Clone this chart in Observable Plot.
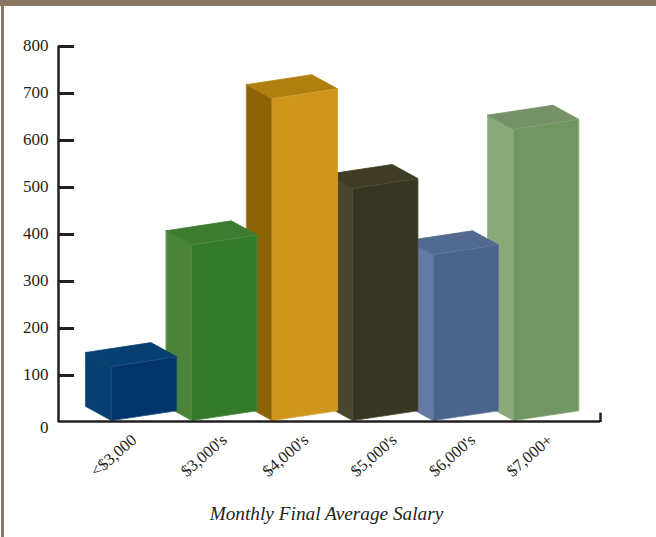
<!DOCTYPE html>
<html>
<head>
<meta charset="utf-8">
<script src="https://cdn.jsdelivr.net/npm/d3@7"></script>
<script src="https://cdn.jsdelivr.net/npm/@observablehq/plot@0.6"></script>
<style>
html,body{margin:0;padding:0;background:#fff;overflow:hidden}
#chart{position:relative;width:656px;height:537px}
#chart svg{position:absolute;left:0;top:0;background:transparent}
.band-top{position:absolute;left:0;top:0;width:656px;height:6px;background:#8a7863}
.band-left{position:absolute;left:1px;top:0;width:3px;height:537px;background:#8a7863}
</style>
</head>
<body>
<div id="chart"><div class="band-top"></div><div class="band-left"></div></div>
<script>
const categories = ["<$3,000", "$3,000's", "$4,000's", "$5,000's", "$6,000's", "$7,000+"];
const values = [115, 374, 685, 494, 353, 620];
const frontColors = ["#00346a", "#337a2a", "#d0961b", "#363622", "#4a648c", "#719563"];
const sideColors = ["#063f72", "#4b8339", "#8c6405", "#4b4630", "#637ba4", "#8aa87a"];
const topColors = ["#063f72", "#3d7b30", "#b07f0e", "#3f3b25", "#526a90", "#749167"];
const edgeColors = ["#1f5285", "#4f8c44", "#d8a436", "#4e4c36", "#5f79a2", "#84a576"];
const yTicks = [100, 200, 300, 400, 500, 600, 700, 800];
const labelNudge = [0, 10, 11, 19, 17, 14];

// Oblique projection, in the units of the x (bar steps) and y (value) scales
const barWidth = 0.81, baseY = 4, riseY = 21, depthX = -0.32, depthY = 30;

const faces = [];
for (let i = categories.length - 1; i >= 0; --i) {
  const v = values[i];
  const fl = [i, baseY], fr = [i + barWidth, baseY + riseY];
  const tl = [i, baseY + v], tr = [i + barWidth, baseY + riseY + v];
  const back = ([x, y]) => [x + depthX, y + depthY];
  const polys = [
    ["side", sideColors[i], sideColors[i], [back(fl), fl, tl, back(tl)]],
    ["top", topColors[i], topColors[i], [tl, tr, back(tr), back(tl)]],
    ["front", frontColors[i], edgeColors[i], [fl, fr, tr, tl]]
  ];
  for (const [kind, fill, stroke, pts] of polys)
    for (const [x, y] of pts) faces.push({id: `${i}-${kind}`, x, y, fill, stroke});
}

const serif = "'Liberation Serif', serif";
const ink = "#231f20";
const plot = Plot.plot({
  width: 656, height: 537,
  marginLeft: 58, marginRight: 56, marginTop: 46, marginBottom: 115,
  style: {background: "transparent", fontFamily: serif},
  x: {type: "linear", domain: [-0.66, 6.08], axis: null},
  y: {domain: [0, 800], axis: null},
  color: {type: "identity"},
  marks: [
    Plot.line(faces, {x: "x", y: "y", z: "id", fill: "fill", stroke: "stroke", strokeWidth: 0.8, curve: "linear-closed"}),
    Plot.ruleX([-0.66], {y1: 0, y2: 800, stroke: ink, strokeWidth: 2.5}),
    Plot.ruleY([0], {x1: -0.66, x2: 6.08, dy: -1, stroke: ink, strokeWidth: 2.5}),
    Plot.ruleX([6.08], {y1: 0, y2: 20, stroke: ink, strokeWidth: 2.5}),
    Plot.ruleY(yTicks, {x1: -0.66, x2: -0.46, stroke: ink, strokeWidth: 3}),
    Plot.text(yTicks, {x: -0.66, y: d => d, text: d => String(d), textAnchor: "end", dx: -10, dy: -1, fontSize: 17, fill: ink}),
    Plot.text([0], {x: -0.66, y: 0, text: d => String(d), textAnchor: "end", dx: -10, dy: 5, fontSize: 17, fill: ink}),
    ...categories.map((c, i) => Plot.text([c], {
      x: () => i + 0.025, y: 0, text: d => d, rotate: -41, dx: labelNudge[i], dy: 33,
      fontSize: 16.5, fill: ink
    })),
    Plot.text(["Monthly Final Average Salary"], {
      frameAnchor: "bottom", text: d => d, dy: 97, dx: -3, fontSize: 19.3, fontStyle: "italic", fill: ink
    })
  ]
});
document.getElementById("chart").appendChild(plot);
</script>
</body>
</html>
